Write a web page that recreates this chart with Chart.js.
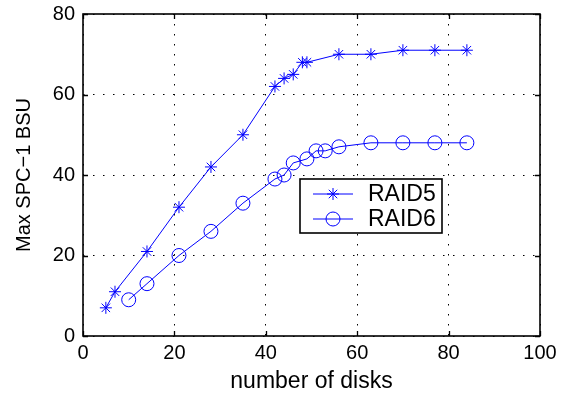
<!DOCTYPE html>
<html><head><meta charset="utf-8">
<script src="https://cdn.jsdelivr.net/npm/chart.js@4/dist/chart.umd.min.js"></script>
<style>html,body{margin:0;padding:0;background:#fff;} #wrap{width:565px;height:394px;}</style>
</head><body><div id="wrap"><canvas id="c" width="565" height="394"></canvas></div>
<script>
const raid5Disks = [5,7,14,21,28,35,42,44,46,48,49,56,63,70,77,84];
const raid5BSU   = [7,11,21,32,42,50,62,64,65,68,68,70,70,71,71,71];
const raid6Disks = [10,14,21,28,35,42,44,46,49,51,53,56,63,70,77,84];
const raid6BSU   = [9,13,20,26,33,39,40,43,44,46,46,47,48,48,48,48];
const xTicks = [0,20,40,60,80,100];
const yTicks = [0,20,40,60,80];
const seriesNames = ['RAID5','RAID6'];
const xTitle = 'number of disks';
const yTitle = 'Max SPC\u22121 BSU';

const FONT = "'Liberation Sans', Arial, Helvetica, sans-serif";
const BLUE = 'rgb(0,0,255)';

const toPts = (xs, ys) => xs.map((x, i) => ({x: x, y: ys[i]}));

const frameAndTicks = {
  id: 'frameAndTicks',
  afterDraw(chart) {
    const {ctx, chartArea: a, scales: {x, y}} = chart;
    ctx.save();
    ctx.strokeStyle = '#000';
    ctx.lineWidth = 1.3;
    ctx.setLineDash([]);
    ctx.beginPath();
    xTicks.forEach(v => {
      const px = Math.round(x.getPixelForValue(v)) + 0.5;
      ctx.moveTo(px, a.bottom); ctx.lineTo(px, a.bottom - 5);
      ctx.moveTo(px, a.top); ctx.lineTo(px, a.top + 5);
    });
    yTicks.forEach(v => {
      const py = Math.round(y.getPixelForValue(v)) + 0.5;
      ctx.moveTo(a.left, py); ctx.lineTo(a.left + 5, py);
      ctx.moveTo(a.right, py); ctx.lineTo(a.right - 5, py);
    });
    ctx.stroke();
    ctx.lineWidth = 1.6;
    ctx.strokeRect(a.left, a.top, a.right - a.left, a.bottom - a.top);
    ctx.restore();
  }
};

const boxLegend = {
  id: 'boxLegend',
  afterDraw(chart) {
    const ctx = chart.ctx;
    const bx = 300, by = 179, bw = 142, bh = 54;
    ctx.save();
    ctx.fillStyle = '#fff';
    ctx.fillRect(bx, by, bw, bh);
    ctx.strokeStyle = '#000';
    ctx.lineWidth = 1.6;
    ctx.strokeRect(bx, by, bw, bh);
    chart.data.datasets.forEach((ds, i) => {
      const cy = by + 15 + i * 25;
      ctx.strokeStyle = ds.borderColor;
      ctx.lineWidth = 1;
      ctx.beginPath();
      ctx.moveTo(313, cy); ctx.lineTo(353, cy);
      ctx.stroke();
      ctx.fillStyle = 'rgba(0,0,0,0)';
      Chart.helpers.drawPoint(ctx, {pointStyle: ds.pointStyle, radius: ds.pointRadius, rotation: 0, borderWidth: 1}, 333, cy);
      ctx.fillStyle = '#000';
      ctx.font = '23px ' + FONT;
      ctx.textBaseline = 'middle';
      ctx.textAlign = 'left';
      ctx.fillText(ds.label, 368, cy + 1);
    });
    ctx.restore();
  }
};

new Chart(document.getElementById('c'), {
  type: 'line',
  data: {
    datasets: [
      {label: seriesNames[0], data: toPts(raid5Disks, raid5BSU), borderColor: BLUE, borderWidth: 1,
       pointStyle: 'star', pointRadius: 6, pointBorderWidth: 1, pointBorderColor: BLUE,
       pointBackgroundColor: 'rgba(0,0,0,0)', tension: 0, fill: false},
      {label: seriesNames[1], data: toPts(raid6Disks, raid6BSU), borderColor: BLUE, borderWidth: 1,
       pointStyle: 'circle', pointRadius: 7, pointBorderWidth: 1, pointBorderColor: BLUE,
       pointBackgroundColor: 'rgba(0,0,0,0)', tension: 0, fill: false}
    ]
  },
  options: {
    responsive: false,
    animation: false,
    devicePixelRatio: 1,
    layout: {padding: {left: 0, right: 25, top: 14, bottom: 0}},
    plugins: {legend: {display: false}, tooltip: {enabled: false}},
    scales: {
      x: {
        type: 'linear', min: 0, max: 100,
        afterBuildTicks: s => { s.ticks = xTicks.map(v => ({value: v})); },
        afterFit: s => { s.height = 58; s.paddingLeft = 0; s.paddingRight = 0; },
        grid: {color: '#000', lineWidth: 1, drawTicks: false},
        border: {display: false, dash: [1.5, 8.5]},
        ticks: {color: '#000', font: {family: FONT, size: 20}, padding: 5, maxRotation: 0, autoSkip: false},
        title: {display: true, text: xTitle, color: '#000', font: {family: FONT, size: 23, lineHeight: 1}, padding: {top: 0, bottom: 1}}
      },
      y: {
        type: 'linear', min: 0, max: 80,
        afterBuildTicks: s => { s.ticks = yTicks.map(v => ({value: v})); },
        afterFit: s => { s.width = 83; s.paddingTop = 0; s.paddingBottom = 0; },
        grid: {color: '#000', lineWidth: 1, drawTicks: false},
        border: {display: false, dash: [1.5, 8.5]},
        ticks: {color: '#000', font: {family: FONT, size: 20}, padding: 8, autoSkip: false},
        title: {display: true, text: yTitle, color: '#000', font: {family: FONT, size: 20, lineHeight: 1}, padding: {top: 14, bottom: 0}}
      }
    }
  },
  plugins: [frameAndTicks, boxLegend]
});
</script>
</body></html>
